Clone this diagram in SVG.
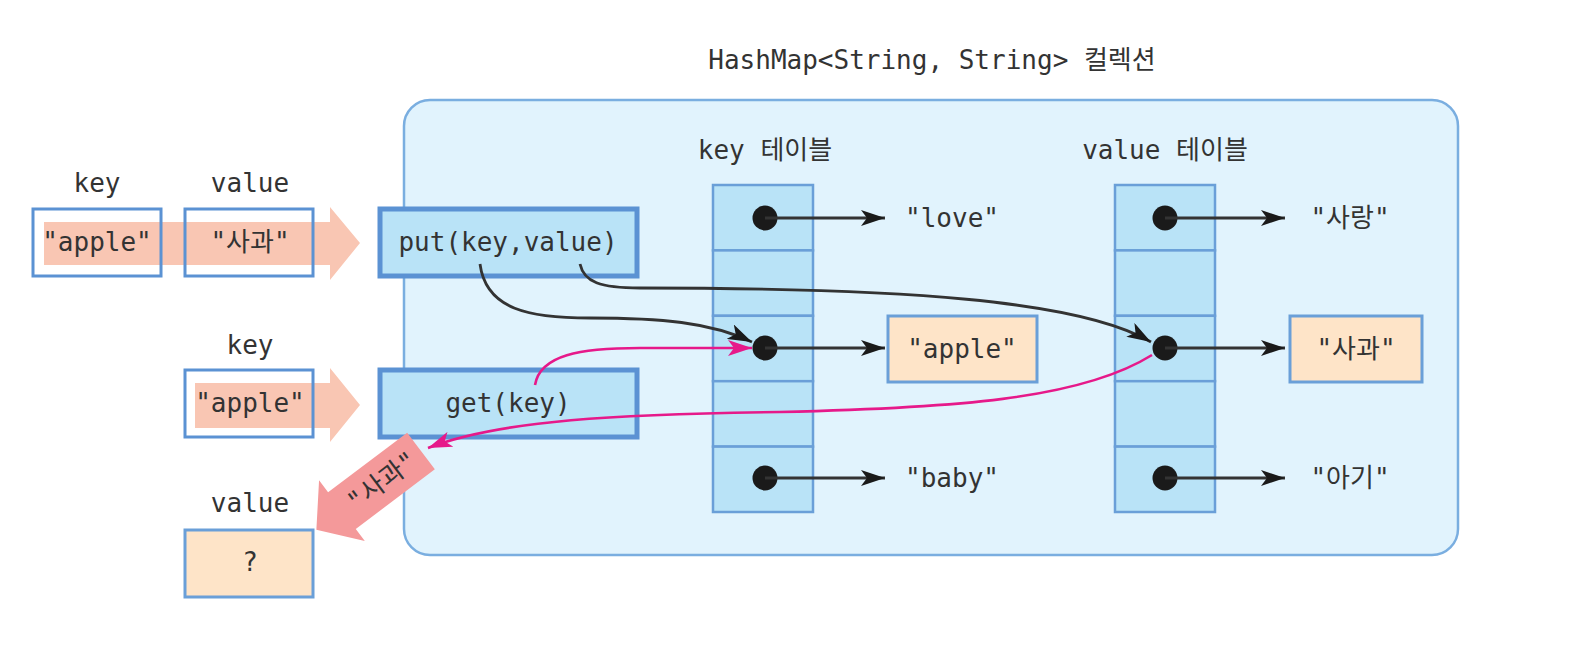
<svg xmlns="http://www.w3.org/2000/svg" width="1578" height="656" viewBox="0 0 1578 656">
<style>
.t{font-family:"DejaVu Sans Mono","Noto Sans CJK KR",monospace;font-size:26px;fill:#333;text-anchor:middle;dominant-baseline:central}
.cell{fill:#b9e3f7;stroke:#6a9fd8;stroke-width:2.5}
.leftbox{fill:none;stroke:#5b92d3;stroke-width:3}
.fn{fill:#b9e3f7;stroke:#5b92d3;stroke-width:5}
.val{fill:#fee4c8;stroke:#6a9fd8;stroke-width:3}
.dot{fill:#1a1a1a}
.blk{fill:none;stroke:#333;stroke-width:2.8}
.pnk{fill:none;stroke:#e6198a;stroke-width:2.6}
.band{fill:#f9c6b3}
</style>
<defs>
<marker id="ab" viewBox="0 0 24 16" refX="24" refY="8" markerWidth="24" markerHeight="16" markerUnits="userSpaceOnUse" orient="auto">
<path d="M0,0 L24,8 L0,16 L6,8 Z" fill="#1a1a1a"/>
</marker>
<marker id="ap" viewBox="0 0 24 16" refX="24" refY="8" markerWidth="24" markerHeight="16" markerUnits="userSpaceOnUse" orient="auto">
<path d="M0,0 L24,8 L0,16 L6,8 Z" fill="#e6198a"/>
</marker>
</defs>
<rect width="1578" height="656" fill="#ffffff"/>

<g id="title"><text class="t" x="932" y="60" font-size="27">HashMap&lt;String, String&gt; 컬렉션</text></g>

<g id="container"><rect x="404" y="100" width="1054" height="455" rx="26" fill="#e1f3fd" stroke="#7aaee0" stroke-width="2.5"/></g>

<g id="keytable">
<text class="t" x="765" y="150">key 테이블</text>
<rect class="cell" x="713" y="185" width="100" height="65.4"/>
<rect class="cell" x="713" y="250.4" width="100" height="65.4"/>
<rect class="cell" x="713" y="315.8" width="100" height="65.4"/>
<rect class="cell" x="713" y="381.2" width="100" height="65.4"/>
<rect class="cell" x="713" y="446.6" width="100" height="65.4"/>
</g>

<g id="valuetable">
<text class="t" x="1165" y="150">value 테이블</text>
<rect class="cell" x="1115" y="185" width="100" height="65.4"/>
<rect class="cell" x="1115" y="250.4" width="100" height="65.4"/>
<rect class="cell" x="1115" y="315.8" width="100" height="65.4"/>
<rect class="cell" x="1115" y="381.2" width="100" height="65.4"/>
<rect class="cell" x="1115" y="446.6" width="100" height="65.4"/>
</g>

<g id="keyvals">
<text class="t" x="952" y="218">"love"</text>
<rect class="val" x="888" y="316" width="149" height="66"/>
<text class="t" x="962" y="349">"apple"</text>
<text class="t" x="952" y="478">"baby"</text>
</g>

<g id="valvals">
<text class="t" x="1350" y="218">"사랑"</text>
<rect class="val" x="1290" y="316" width="132" height="66"/>
<text class="t" x="1356" y="349">"사과"</text>
<text class="t" x="1350" y="478">"아기"</text>
</g>

<g id="put"><rect class="fn" x="380" y="209" width="257" height="67"/><text class="t" x="508" y="242">put(key,value)</text></g>
<g id="get"><rect class="fn" x="380" y="370" width="257" height="67"/><text class="t" x="508" y="403">get(key)</text></g>

<g id="input1">
<text class="t" x="97" y="183">key</text>
<text class="t" x="250" y="183">value</text>
<rect x="33" y="209" width="128" height="67" fill="#fff"/>
<rect x="185" y="209" width="128" height="67" fill="#fff"/>
<path class="band" d="M44,222 L330,222 L330,207 L360,243 L330,280 L330,265 L44,265 Z"/>
<rect class="leftbox" x="33" y="209" width="128" height="67"/>
<rect class="leftbox" x="185" y="209" width="128" height="67"/>
<text class="t" x="97" y="242">"apple"</text>
<text class="t" x="250" y="242">"사과"</text>
</g>

<g id="input2">
<text class="t" x="250" y="345">key</text>
<rect x="185" y="370" width="128" height="67" fill="#fff"/>
<path class="band" d="M195,383 L330,383 L330,368 L360,405 L330,442 L330,428 L195,428 Z"/>
<rect class="leftbox" x="185" y="370" width="128" height="67"/>
<text class="t" x="250" y="403">"apple"</text>
</g>

<g id="output">
<text class="t" x="250" y="503">value</text>
<rect class="val" x="185" y="530" width="128" height="67"/>
<text class="t" x="250" y="562">?</text>
</g>

<g id="result">
<g transform="translate(421,451) rotate(143)">
<path d="M0,-23 L99,-23 L99,-38 L131,0 L99,38 L99,23 L0,23 Z" fill="#f4999a"/>
</g>
<text class="t" x="382" y="481" transform="rotate(-37 382 481)">"사과"</text>
</g>

<g id="connectors">
<circle class="dot" cx="765" cy="218" r="12.5"/>
<circle class="dot" cx="765" cy="348" r="12.5"/>
<circle class="dot" cx="765" cy="478" r="12.5"/>
<circle class="dot" cx="1165" cy="218" r="12.5"/>
<circle class="dot" cx="1165" cy="348" r="12.5"/>
<circle class="dot" cx="1165" cy="478" r="12.5"/>
<line class="blk" x1="765" y1="218" x2="885" y2="218" marker-end="url(#ab)"/>
<line class="blk" x1="765" y1="348" x2="885" y2="348" marker-end="url(#ab)"/>
<line class="blk" x1="765" y1="478" x2="885" y2="478" marker-end="url(#ab)"/>
<line class="blk" x1="1165" y1="218" x2="1285" y2="218" marker-end="url(#ab)"/>
<line class="blk" x1="1165" y1="348" x2="1285" y2="348" marker-end="url(#ab)"/>
<line class="blk" x1="1165" y1="478" x2="1285" y2="478" marker-end="url(#ab)"/>
<path class="blk" d="M480,264 C486,310 530,318 590,318 C660,318 710,322 752,342" marker-end="url(#ab)"/>
<path class="blk" d="M580,264 C584,282 600,288 640,288 C900,288 1080,300 1151,342" marker-end="url(#ab)"/>
<path class="pnk" d="M535,385 C540,355 580,348 640,348 C690,348 720,348 752,348" marker-end="url(#ap)"/>
<path class="pnk" d="M1152,355 C1080,400 950,408 780,412 C620,414 500,420 428,448" marker-end="url(#ap)"/>
</g>
</svg>
